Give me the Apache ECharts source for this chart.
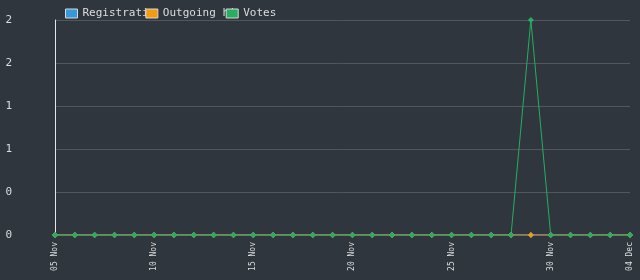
<!DOCTYPE html>
<html><head><meta charset="utf-8">
<script src="https://cdn.jsdelivr.net/npm/echarts@6/dist/echarts.min.js"></script>
<style>html,body{margin:0;padding:0;background:#2f363e}#c{width:640px;height:280px}</style>
</head><body><div id="c"></div>
<script>
const categories = ['05 Nov','06 Nov','07 Nov','08 Nov','09 Nov','10 Nov','11 Nov','12 Nov','13 Nov','14 Nov','15 Nov','16 Nov','17 Nov','18 Nov','19 Nov','20 Nov','21 Nov','22 Nov','23 Nov','24 Nov','25 Nov','26 Nov','27 Nov','28 Nov','29 Nov','30 Nov','01 Dec','02 Dec','03 Dec','04 Dec'];
const registrations = [0,0,0,0,0,0,0,0,0,0,0,0,0,0,0,0,0,0,0,0,0,0,0,0,0,0,0,0,0,0];
const outgoingHits = [0,0,0,0,0,0,0,0,0,0,0,0,0,0,0,0,0,0,0,0,0,0,0,0,0,0,0,0,0,0];
const votes = [0,0,0,0,0,0,0,0,0,0,0,0,0,0,0,0,0,0,0,0,0,0,0,0,2,0,0,0,0,0];
const seriesNames = ['Registrations','Outgoing hits','Votes'];
const yTicks = {min:0, max:2, interval:0.4};

const font = 'DejaVu Sans Mono';
const chart = echarts.init(document.getElementById('c'));
function mk(name, data, color){
  return {name, type:'line', data, symbol:'diamond', symbolSize:6,
    lineStyle:{color, width:1}, itemStyle:{color}, animation:false};
}
chart.setOption({
  backgroundColor:'#2f363e',
  animation:false,
  legend:{
    left:65, top:8, padding:0, itemWidth:12, itemHeight:9, itemGap:-10,
    icon:'rect',
    itemStyle:{borderColor:'#d8d8d8', borderWidth:1},
    formatter:function(n){return n.length>11 ? n.slice(0,11) : n;},
    textStyle:{color:'#dddddd', fontFamily:font, fontSize:11},
    data:seriesNames
  },
  grid:{left:55, right:10, top:20, bottom:45},
  xAxis:{
    type:'category', data:categories, boundaryGap:false,
    axisLine:{show:false}, axisTick:{show:false},
    axisLabel:{rotate:90, color:'#dddddd', fontFamily:font, fontSize:8, margin:7,
      interval:function(i){return i%5===0 || i===categories.length-1;}},
    splitLine:{show:false}
  },
  yAxis:{
    type:'value', min:yTicks.min, max:yTicks.max, interval:yTicks.interval,
    axisLine:{show:true, lineStyle:{color:'#e6e6e6', width:1}},
    axisTick:{show:false},
    axisLabel:{color:'#dddddd', fontFamily:font, fontSize:11, margin:43,
      formatter:function(v){return String(Math.round(v));}},
    splitLine:{lineStyle:{color:'#50575e', width:1}}
  },
  series:[
    mk(seriesNames[0], registrations, '#3498db'),
    mk(seriesNames[1], outgoingHits, '#f39c12'),
    mk(seriesNames[2], votes, '#27ae60')
  ]
});
</script></body></html>
